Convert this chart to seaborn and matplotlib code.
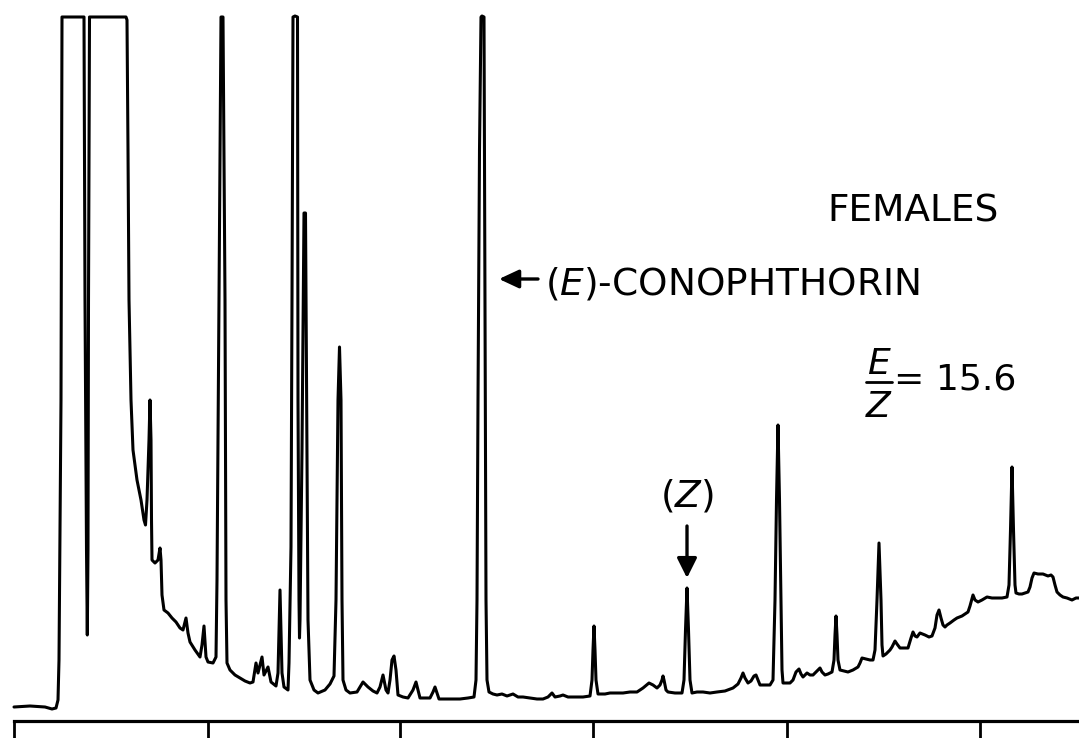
import numpy as np
import pandas as pd
import matplotlib
matplotlib.use("Agg")
import matplotlib.pyplot as plt
import seaborn as sns

# ---- data (chart units) ----
retention = [14, 30, 45, 52, 56, 58, 59, 61, 62, 84, 85, 86.5, 87.3, 88, 88.5, 89.5,
             126, 127, 128, 129, 131, 133, 137, 141, 144, 145.5, 147, 149, 150, 151, 151.5,
             152, 155, 158, 160, 161, 162, 164, 168, 172, 176, 180, 183, 186, 188, 190,
             195, 200, 202, 204, 206, 208, 213, 216, 217, 219, 221, 223, 225, 226, 227,
             230, 235, 240, 245, 250, 253, 256, 258, 262, 264, 268, 271, 276, 278, 280,
             282, 284, 288, 289, 291, 292, 293, 295, 297.5, 298, 299, 299.5, 300, 302,
             304, 305.5, 307, 308, 310, 314, 318, 325, 330, 334, 336, 338, 339.5, 341,
             342, 343, 346, 350, 357, 363, 368, 373, 377, 380, 383, 386, 388, 390, 392,
             394, 396, 398, 403, 408, 413, 416, 418, 420, 425, 430, 433, 435, 437, 439,
             450, 460, 468, 474, 476, 477, 478, 479.5, 481, 482, 484, 485, 486, 487, 489,
             493, 497, 502, 507, 513, 518, 523, 530, 537, 543, 548, 552, 555, 560, 563,
             568, 575, 583, 590, 592, 593, 594, 595, 596, 598, 605, 610, 617, 623, 630,
             637, 643, 649, 653, 657, 660, 662, 663, 664, 666, 668, 675, 682, 684, 685.5,
             687, 688.5, 690, 692, 697, 703, 710, 717, 725, 733, 738, 741, 743, 745, 748,
             751, 754, 756, 758, 760, 765, 770, 773, 775, 776.5, 778, 779.5, 781, 782,
             783, 786, 790, 793, 796, 799, 801, 803, 805, 807, 810, 813, 816, 820, 822,
             825, 828, 832, 834, 835, 836, 837, 838, 840, 844, 848, 853, 858, 860, 862,
             866, 870, 873, 875, 877, 879, 881, 882, 883, 886, 890, 892, 895, 897, 900,
             904, 908, 911, 913, 915, 917, 920, 925, 929, 932, 935, 937, 939, 941, 943,
             945, 947, 950, 954, 957, 962, 968, 970, 973, 975, 978, 982, 987, 992, 997,
             1002, 1007, 1009, 1010.5, 1012, 1013.5, 1015, 1016, 1019, 1022, 1025, 1028,
             1030, 1032, 1034, 1038, 1043, 1048, 1051, 1053, 1055, 1057, 1060, 1063,
             1067, 1072, 1076, 1079]
response = [14, 15, 14, 12, 13, 21, 61, 321, 704, 704, 421, 171, 86, 171, 421, 704,
            704, 701, 571, 421, 321, 271, 241, 221, 201, 196, 221, 281, 321, 281, 201,
            161, 158, 161, 173, 161, 126, 111, 108, 103, 99, 93, 91, 103, 88, 79,
            71, 64, 76, 95, 64, 59, 58, 64, 141, 421, 704, 704, 421, 121, 58,
            51, 46, 43, 40, 38, 39, 58, 48, 64, 46, 54, 39, 35, 48, 131,
            48, 34, 31, 58, 174, 421, 704, 705, 704, 321, 121, 83, 101, 271,
            508, 508, 271, 101, 41, 31, 28, 31, 37, 45, 121, 321, 374, 321,
            121, 41, 31, 28, 29, 39, 34, 30, 28, 34, 46, 31, 28, 41, 61,
            65, 51, 26, 24, 23, 31, 39, 31, 23, 23, 23, 29, 34, 28, 22,
            22, 22, 23, 24, 41, 121, 321, 571, 704, 705, 704, 421, 121, 41, 29,
            27, 26, 27, 25, 27, 24, 24, 23, 22, 22, 24, 28, 24, 25, 26,
            24, 24, 24, 25, 41, 71, 95, 71, 41, 27, 27, 28, 28, 28, 29,
            29, 33, 38, 36, 33, 36, 41, 45, 41, 31, 29, 28, 28, 41, 91,
            133, 91, 41, 28, 29, 29, 28, 29, 30, 33, 37, 43, 48, 43, 38,
            40, 45, 46, 41, 36, 36, 36, 41, 121, 221, 296, 221, 121, 51,
            38, 38, 38, 41, 49, 52, 47, 44, 46, 48, 46, 46, 49, 53, 49,
            46, 47, 49, 61, 86, 105, 86, 61, 51, 50, 49, 51, 54, 58, 63,
            62, 61, 61, 71, 121, 178, 121, 76, 65, 67, 71, 74, 80, 77, 73,
            73, 73, 83, 89, 85, 84, 88, 86, 84, 85, 93, 106, 111, 103, 96,
            94, 96, 98, 101, 103, 105, 109, 115, 126, 121, 119, 121, 124, 123, 123,
            123, 124, 136, 191, 254, 191, 136, 128, 127, 127, 128, 129,
            134, 143, 148, 147, 147, 145, 146, 144, 136, 129, 126, 124,
            123, 121, 123, 123]
tick_positions = [14, 208, 400, 593, 787, 980]

df = pd.DataFrame({"retention": retention, "response": response})

sns.set_style("white")
plt.rcParams["font.family"] = ["DejaVu Sans"]
plt.rcParams["mathtext.fontset"] = "dejavusans"

fig = plt.figure(figsize=(10.79, 7.38), dpi=100)
ax = fig.add_axes([0, 0, 1, 1])

sns.lineplot(data=df, x="retention", y="response", ax=ax, color="black",
             linewidth=2.2, estimator=None, sort=False)

ax.set_xlim(0, 1079)
ax.set_ylim(-17, 721)
ax.set_xlabel("")
ax.set_ylabel("")

for s in ["left", "top", "right"]:
    ax.spines[s].set_visible(False)
ax.spines["bottom"].set_position(("data", 0))
ax.spines["bottom"].set_bounds(14, 1079)
ax.spines["bottom"].set_linewidth(2.3)
ax.spines["bottom"].set_color("black")
ax.set_xticks(tick_positions)
ax.set_xticklabels([])
ax.tick_params(axis="x", bottom=True, direction="out", length=13, width=2.0,
               color="black")
ax.set_yticks([])

fs = 27
# annotations
ax.text(913, 499, "FEMALES", fontsize=fs, ha="center", va="baseline", color="black")
ax.annotate("", xy=(499, 442), xytext=(538, 442),
            arrowprops=dict(arrowstyle="-|>,head_length=0.6,head_width=0.28",
                            lw=2.4, color="black", shrinkA=0, shrinkB=0,
                            mutation_scale=20))
ax.text(545, 426, r"($\mathit{E}$)-CONOPHTHORIN", fontsize=fs, ha="left",
        va="baseline", color="black")

ax.text(687, 225, r"($\mathit{Z}$)", fontsize=fs, ha="center", va="center",
        color="black")
ax.annotate("", xy=(687, 143), xytext=(687, 195),
            arrowprops=dict(arrowstyle="-|>,head_length=0.6,head_width=0.3",
                            lw=2.4, color="black", shrinkA=0, shrinkB=0,
                            mutation_scale=20))

ax.text(879, 347, r"$\mathit{E}$", fontsize=fs - 1, ha="center", va="baseline",
        color="black")
ax.plot([866, 892], [339, 339], color="black", lw=2.0)
ax.text(879, 304, r"$\mathit{Z}$", fontsize=fs - 1, ha="center", va="baseline",
        color="black")
ax.text(894, 331, "= 15.6", fontsize=fs - 1, ha="left", va="baseline", color="black")

fig.savefig("out.png", dpi=100)
